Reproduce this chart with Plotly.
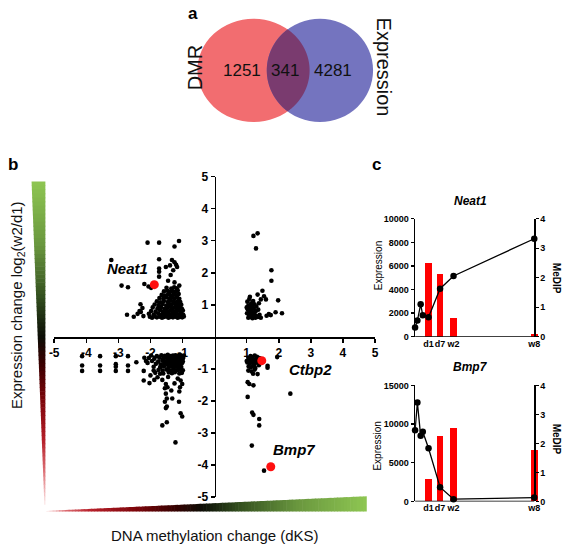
import math
import plotly.graph_objects as go

W, H = 567, 552
FONT = "Liberation Sans, Arial, sans-serif"


def px(x):
    return x / W


def py(y):
    return 1 - y / H


# ---------------- data ----------------
# panel a: Venn counts
venn_sets = ["DMR", "Expression"]
venn_counts = [1251, 341, 4281]  # DMR only, both, Expression only

# panel b: DNA methylation change (dKS) vs expression change log2(w2/d1)
ul_x = [-3.22, -2.09, -1.73, -1.25, -1.11, -1.73, -1.73, -1.73, -1.52, -1.39, -1.25, -1.17, -1.29, -1.37, -1.20, -1.33,
        -2.90, -2.70, -2.19, -2.06, -1.98, -1.73, -1.45, -1.25, -1.10, -2.31, -2.25, -2.30, -2.73, -2.52, -2.40, -2.34, -2.22,
        -2.02, -1.95, -1.88, -1.80, -1.71, -1.64, -1.58, -1.50, -1.44, -1.37, -1.30, -1.22, -1.15, -1.08, -1.01, -0.96,
        -2.05, -1.90, -1.76, -1.66, -1.55, -1.47, -1.40, -1.33, -1.26, -1.18, -1.11, -1.04, -0.98,
        -1.98, -1.84, -1.70, -1.61, -1.52, -1.43, -1.36, -1.28, -1.20, -1.13, -1.06, -0.99,
        -1.93, -1.78, -1.67, -1.57, -1.48, -1.39, -1.31, -1.24, -1.16, -1.09, -1.02,
        -1.87, -1.74, -1.62, -1.51, -1.42, -1.35, -1.27, -1.19, -1.12, -1.04,
        -1.80, -1.69, -1.58, -1.46, -1.38, -1.29, -1.22, -1.14, -1.07,
        -1.72, -1.60, -1.49, -1.41, -1.33, -1.25, -1.17, -1.10,
        -1.65, -1.55, -1.45, -1.36, -1.28, -1.20, -1.12,
        -1.58, -1.47, -1.39, -1.31, -1.22, -1.15,
        -1.50, -1.35, -1.26, -1.18]
ul_y = [2.40, 2.94, 2.94, 2.82, 2.99, 2.42, 2.13, 2.03, 2.18, 2.23, 2.33, 2.18, 2.08, 1.93, 2.25, 2.40,
        1.60, 1.55, 1.65, 1.57, 1.53, 1.88, 1.75, 1.70, 1.60, 1.02, 0.90, 0.78, 0.69, 0.63, 0.72, 0.81, 0.65,
        0.63, 0.60, 0.64, 0.61, 0.63, 0.60, 0.62, 0.64, 0.60, 0.62, 0.61, 0.63, 0.60, 0.62, 0.61, 0.64,
        0.72, 0.70, 0.73, 0.69, 0.71, 0.74, 0.69, 0.72, 0.70, 0.73, 0.70, 0.72, 0.69,
        0.81, 0.79, 0.83, 0.78, 0.82, 0.80, 0.84, 0.79, 0.81, 0.83, 0.78, 0.82,
        0.92, 0.89, 0.93, 0.88, 0.91, 0.94, 0.89, 0.92, 0.90, 0.93, 0.88,
        1.01, 0.99, 1.03, 0.98, 1.02, 1.00, 1.04, 0.99, 1.02, 1.00,
        1.11, 1.08, 1.12, 1.09, 1.13, 1.10, 1.08, 1.12, 1.09,
        1.21, 1.19, 1.23, 1.18, 1.22, 1.20, 1.24, 1.19,
        1.31, 1.29, 1.33, 1.28, 1.32, 1.30, 1.34,
        1.42, 1.44, 1.40, 1.43, 1.41, 1.45,
        1.53, 1.51, 1.55, 1.52]

ur_x = [1.21, 1.34, 1.29, 1.77, 1.77, 1.49, 1.34, 1.54, 1.60, 1.44, 1.98, 2.10, 1.69, 1.90, 1.62, 1.75,
        1.02, 1.08, 1.14, 1.20, 1.05, 1.11, 1.17, 1.24, 1.30, 1.03, 1.09, 1.15, 1.22, 1.28, 1.36, 1.01,
        1.07, 1.13, 1.19, 1.25, 1.32, 1.40, 1.05, 1.12, 1.18, 1.27, 1.35, 1.44, 1.00, 1.22, 1.10, 1.38]
ur_y = [3.15, 3.23, 2.76, 2.08, 1.75, 1.44, 1.32, 1.27, 1.17, 1.17, 1.14, 0.74, 0.71, 0.77, 0.66, 0.68,
        1.10, 1.18, 1.05, 1.12, 0.98, 0.92, 0.97, 1.02, 0.95, 0.86, 0.80, 0.84, 0.88, 0.80, 0.85, 0.74,
        0.68, 0.72, 0.66, 0.70, 0.64, 0.69, 0.60, 0.62, 0.58, 0.60, 0.62, 0.60, 0.92, 0.75, 1.25, 1.05]

ll_x = [-4.13, -4.13, -4.13, -3.57, -3.57, -3.57, -3.08, -3.08, -3.08, -3.08, -2.70, -2.70, -2.70,
        -2.44, -2.19, -2.14, -2.09, -2.21, -2.21, -2.03, -1.88, -1.78, -1.63, -1.52, -1.47, -1.35, -1.06, -1.01,
        -1.08, -1.52, -1.49, -1.55, -1.49, -1.52, -1.32, -1.11, -1.06, -1.01, -1.63, -1.49, -1.22, -2.00, -1.90,
        -1.70, -1.45, -1.25, -1.15, -1.55, -1.10,
        -1.98, -1.80, -1.66, -1.55, -1.46, -1.38, -1.30, -1.22, -1.15, -1.08, -1.01, -0.96,
        -2.05, -1.88, -1.72, -1.60, -1.50, -1.42, -1.34, -1.26, -1.18, -1.11, -1.04, -0.98,
        -1.95, -1.76, -1.63, -1.53, -1.45, -1.37, -1.29, -1.21, -1.13, -1.06, -0.99,
        -1.83, -1.68, -1.57, -1.48, -1.40, -1.32, -1.24, -1.16, -1.09, -1.02,
        -1.90, -1.70, -1.58, -1.44, -1.35, -1.27, -1.19, -1.12, -1.04,
        -1.75, -1.62, -1.50, -1.39, -1.29, -1.21, -1.14, -1.06, -0.99,
        -1.85, -1.60, -1.43, -1.33, -1.24, -1.10, -1.02]
ll_y = [-0.60, -0.89, -1.06, -0.60, -0.89, -1.06, -0.60, -0.85, -0.93, -1.06, -0.60, -0.89, -1.06,
        -0.79, -0.65, -0.75, -0.81, -1.06, -1.36, -1.44, -1.34, -1.26, -1.34, -1.47, -1.57, -1.67, -1.36, -1.47,
        -1.57, -1.77, -1.92, -2.02, -2.17, -2.22, -1.92, -2.02, -2.38, -2.48, -2.76, -2.66, -3.29, -1.20, -1.05,
        -1.15, -1.25, -1.45, -1.30, -1.60, -1.70,
        -0.58, -0.60, -0.57, -0.59, -0.56, -0.60, -0.58, -0.57, -0.59, -0.56, -0.60, -0.58,
        -0.66, -0.68, -0.65, -0.67, -0.64, -0.68, -0.66, -0.65, -0.67, -0.64, -0.68, -0.66,
        -0.75, -0.77, -0.74, -0.76, -0.73, -0.77, -0.75, -0.74, -0.76, -0.73, -0.77,
        -0.84, -0.86, -0.83, -0.85, -0.82, -0.86, -0.84, -0.83, -0.85, -0.82,
        -0.93, -0.95, -0.92, -0.94, -0.91, -0.95, -0.93, -0.92, -0.94,
        -1.03, -1.05, -1.02, -1.04, -1.01, -1.05, -1.03, -1.02, -1.04,
        -1.12, -1.14, -1.11, -1.13, -1.10, -1.14, -1.12]

lr_x = [1.95, 1.65, 1.65, 1.34, 1.03, 1.08, 1.21, 1.03, 2.36, 1.17, 1.21, 1.39, 1.39, 1.16, 1.54,
        1.05, 1.12, 1.18, 1.25, 1.32, 1.08, 1.15, 1.22, 1.29, 1.36, 1.02, 1.10, 1.17, 1.24, 1.31, 1.38,
        1.06, 1.13, 1.20, 1.27, 1.05, 1.15, 1.25, 1.00, 1.40, 1.20]
lr_y = [-0.63, -0.96, -0.90, -1.16, -1.41, -1.47, -1.51, -1.87, -1.77, -2.36, -2.43, -2.56, -2.76, -3.39, -4.17,
        -0.65, -0.60, -0.63, -0.58, -0.62, -0.72, -0.70, -0.74, -0.69, -0.72, -0.80, -0.82, -0.79, -0.85, -0.80, -0.88,
        -0.92, -0.95, -0.90, -0.97, -1.05, -1.08, -1.02, -0.75, -0.66, -1.15]

gene_names = ["Neat1", "Ctbp2", "Bmp7"]
gene_dks = [-1.88, 1.47, 1.75]
gene_expr = [1.63, -0.74, -4.05]

axis_b_ticks = [-5, -4, -3, -2, -1, 1, 2, 3, 4, 5]

# panel c: time course
time_days = [-6, -4.8, -3.1, -2, 1, 7, 14, 56]
neat1_expr = [790, 1370, 2750, 1820, 1650, 4070, 5150, 8310]
bmp7_expr = [9200, 12800, 8480, 9020, 6880, 1840, 290, 500]
medip_days = [1, 7, 14, 56]
neat1_medip = [2.50, 2.13, 0.63, 0.10]
bmp7_medip = [0.77, 2.26, 2.52, 1.76]
time_tick_vals = [1, 7, 14, 56]
time_tick_text = ["d1", "d7", "w2", "w8"]

# ---------------- figure ----------------
fig = go.Figure()

all_x = ul_x + ur_x + ll_x + lr_x
all_y = ul_y + ur_y + ll_y + lr_y
fig.add_trace(go.Scatter(x=all_x, y=all_y, mode="markers", xaxis="x", yaxis="y",
                         marker=dict(color="black", size=4.6, line=dict(width=0)),
                         hoverinfo="skip"))
fig.add_trace(go.Scatter(x=gene_dks, y=gene_expr, mode="markers", xaxis="x", yaxis="y",
                         marker=dict(color="#FF1010", size=9, line=dict(width=0))))

# panel c traces (bars on MeDIP base axis, expression line overlaid on top)
fig.add_trace(go.Bar(x=medip_days, y=neat1_medip, xaxis="x2", yaxis="y2", width=3.4,
                     marker=dict(color="#FF0000", line=dict(width=0))))
fig.add_trace(go.Scatter(x=time_days, y=neat1_expr, xaxis="x2", yaxis="y3", mode="lines+markers",
                         line=dict(color="black", width=1.3), marker=dict(color="black", size=6.5),
                         cliponaxis=False))
fig.add_trace(go.Bar(x=medip_days, y=bmp7_medip, xaxis="x3", yaxis="y4", width=3.4,
                     marker=dict(color="#FF0000", line=dict(width=0))))
fig.add_trace(go.Scatter(x=time_days, y=bmp7_expr, xaxis="x3", yaxis="y5", mode="lines+markers",
                         line=dict(color="black", width=1.3), marker=dict(color="black", size=6.5),
                         cliponaxis=False))

shapes = []

# ---- Venn (panel a) in pixel geometry ----
red_c = (252.5, 65.0, 57.0, 53.0)
blue_c = (320.0, 65.0, 54.0, 53.0)


def ell_shape(c, color):
    cx, cy, rx, ry = c
    return dict(type="circle", xref="paper", yref="paper", x0=px(cx - rx), x1=px(cx + rx),
                y0=py(cy + ry), y1=py(cy - ry), fillcolor=color, line=dict(width=0), layer="below")


shapes.append(ell_shape(red_c, "#F26D70"))
shapes.append(ell_shape(blue_c, "#7474BF"))


def inside(c, x, y):
    cx, cy, rx, ry = c
    return ((x - cx) / rx) ** 2 + ((y - cy) / ry) ** 2 <= 1.0


pts = []
n = 720
for i in range(n + 1):
    t = -math.pi + 2 * math.pi * i / n
    x = red_c[0] + red_c[2] * math.cos(t)
    y = red_c[1] + red_c[3] * math.sin(t)
    if inside(blue_c, x, y):
        pts.append((x, y))
for i in range(n + 1):
    t = 2 * math.pi * i / n
    x = blue_c[0] + blue_c[2] * math.cos(t)
    y = blue_c[1] + blue_c[3] * math.sin(t)
    if inside(red_c, x, y):
        pts.append((x, y))
lens = "M " + " L ".join(f"{px(x):.5f},{py(y):.5f}" for x, y in pts) + " Z"
shapes.append(dict(type="path", xref="paper", yref="paper", path=lens, fillcolor="#7A3B6F",
                   line=dict(width=0), layer="below"))


# ---- gradient wedges (panel b) ----
def lerp_color(stops, s):
    for (s0, c0), (s1, c1) in zip(stops[:-1], stops[1:]):
        if s0 <= s <= s1:
            f = (s - s0) / (s1 - s0) if s1 > s0 else 0
            return "rgb({},{},{})".format(*[int(round(a + (b - a) * f)) for a, b in zip(c0, c1)])
    return "rgb({},{},{})".format(*stops[-1][1])


vert_stops = [(0.0, (142, 198, 82)), (0.2, (105, 150, 62)), (0.36, (50, 78, 30)), (0.48, (12, 14, 6)),
              (0.56, (55, 0, 0)), (0.68, (125, 5, 10)), (0.8, (180, 30, 40)), (0.9, (222, 115, 120)),
              (1.0, (252, 232, 232))]
top_y, tip_y = 179.0, 510.0
nv = 80
for i in range(nv):
    y0 = top_y + (tip_y - top_y) * i / nv
    y1 = top_y + (tip_y - top_y) * (i + 1) / nv + 0.6
    xl0 = 27 + (40 - 27) * (y0 - top_y) / (tip_y - top_y)
    xl1 = 27 + (40 - 27) * min(1, (y1 - top_y) / (tip_y - top_y))
    col = lerp_color(vert_stops, (i + 0.5) / nv)
    path = (f"M {px(xl0):.5f},{py(y0):.5f} L {px(41):.5f},{py(y0):.5f} "
            f"L {px(41):.5f},{py(y1):.5f} L {px(xl1):.5f},{py(y1):.5f} Z")
    shapes.append(dict(type="path", xref="paper", yref="paper", path=path, fillcolor=col,
                       line=dict(width=0), layer="below"))

horiz_stops = [(0.0, (252, 232, 232)), (0.05, (225, 120, 125)), (0.14, (182, 30, 40)), (0.28, (125, 5, 10)),
               (0.4, (55, 0, 0)), (0.49, (12, 14, 6)), (0.6, (50, 78, 30)), (0.78, (105, 150, 62)),
               (1.0, (142, 198, 82))]
lx, rx_ = 42.0, 367.0
nh = 100
for i in range(nh):
    x0 = lx + (rx_ - lx) * i / nh
    x1 = lx + (rx_ - lx) * (i + 1) / nh + 0.6
    yt0 = 517 - (517 - 502) * (x0 - lx) / (rx_ - lx)
    yt1 = 517 - (517 - 502) * min(1, (x1 - lx) / (rx_ - lx))
    col = lerp_color(horiz_stops, (i + 0.5) / nh)
    path = (f"M {px(x0):.5f},{py(yt0):.5f} L {px(x1):.5f},{py(yt1):.5f} "
            f"L {px(x1):.5f},{py(517.5):.5f} L {px(x0):.5f},{py(517.5):.5f} Z")
    shapes.append(dict(type="path", xref="paper", yref="paper", path=path, fillcolor=col,
                       line=dict(width=0), layer="below"))

# x axis baselines for panel c (ending at the w8 right axis)
shapes.append(dict(type="line", xref="x2", yref="y2", x0=-6, x1=56, y0=0, y1=0,
                   line=dict(color="black", width=1.4)))
shapes.append(dict(type="line", xref="x3", yref="y4", x0=-6, x1=56, y0=0, y1=0,
                   line=dict(color="black", width=1.4)))

annotations = []


def ann(text, x, y, size, bold=False, italic=False, angle=0, color="black"):
    t = text
    if bold:
        t = f"<b>{t}</b>"
    if italic:
        t = f"<i>{t}</i>"
    annotations.append(dict(text=t, x=px(x), y=py(y), xref="paper", yref="paper", showarrow=False,
                            xanchor="center", yanchor="middle", textangle=angle,
                            font=dict(size=size, color=color, family=FONT)))


# panel labels
ann("a", 191, 7, 17, bold=True)
ann("b", 8, 162, 17, bold=True)
ann("c", 377, 162, 17, bold=True)

# Venn texts
ann(venn_sets[0], 194, 62, 20, angle=-90, color="#111")
ann(venn_sets[1], 385, 62, 20, angle=90, color="#111")
ann(str(venn_counts[0]), 241, 65, 17, color="#111")
ann(str(venn_counts[1]), 285, 65, 17, color="#111")
ann(str(venn_counts[2]), 333, 65, 17, color="#111")

# panel b axis titles
ann("Expression change log<sub>2</sub>(w2/d1)", 12, 306, 15, angle=-90, color="#111")
ann("DNA methylation change (dKS)", 213, 542, 15, color="#111")

# gene labels (data coordinates)
gene_label_pos = {"Neat1": (-2.73, 2.14), "Ctbp2": (3.0, -1.02), "Bmp7": (2.48, -3.52)}
for g in gene_names:
    gx, gy = gene_label_pos[g]
    annotations.append(dict(text=f"<b><i>{g}</i></b>", x=gx, y=gy, xref="x", yref="y", showarrow=False,
                            xanchor="center", yanchor="middle", font=dict(size=15, color="black", family=FONT)))

# panel c titles
ann("Neat1", 473, 199, 12, bold=True, italic=True)
ann("Bmp7", 473, 369, 12, bold=True, italic=True)
ann("Expression", 379, 265, 10, angle=-90)
ann("Expression", 379, 450, 10, angle=-90)
ann("MeDIP", 560, 278, 10, bold=True, angle=90)
ann("MeDIP", 560, 443, 10, bold=True, angle=90)

tick_b = dict(family=FONT, size=12, color="black", weight="bold")
tick_c = dict(family=FONT, size=9, color="black", weight="bold")

xd_c = [416.7 / W, 541.7 / W]

common_c_y = dict(showgrid=False, zeroline=False, showline=True, linecolor="black", linewidth=1.4,
                  ticks="outside", ticklen=3, tickwidth=1.3, tickcolor="black", tickfont=tick_c,
                  tickformat="d")
common_c_x = dict(domain=xd_c, range=[-6, 58], showgrid=False, zeroline=False, showline=False,
                  ticks="", tickvals=time_tick_vals, ticktext=time_tick_text, tickfont=tick_c,
                  tickangle=0)

fig.update_layout(
    width=W, height=H, autosize=False,
    margin=dict(l=0, r=0, t=0, b=0),
    paper_bgcolor="white", plot_bgcolor="rgba(0,0,0,0)",
    showlegend=False,
    font=dict(family=FONT, color="black"),
    bargap=0,
    xaxis=dict(domain=[50 / W, 376 / W], range=[-5, 5], anchor="free", position=py(338.5),
               showgrid=False, zeroline=False, showline=True, linecolor="black", linewidth=1.6,
               ticks="outside", ticklen=4, tickwidth=1.5, tickcolor="black",
               tickvals=axis_b_ticks, ticktext=[str(v) for v in axis_b_ticks], tickfont=tick_b),
    yaxis=dict(domain=[py(503), py(174)], range=[-5, 5], anchor="free", position=213 / W,
               showgrid=False, zeroline=False, showline=True, linecolor="black", linewidth=1.6,
               ticks="outside", ticklen=4, tickwidth=1.5, tickcolor="black",
               tickvals=axis_b_ticks, ticktext=[str(v) for v in axis_b_ticks], tickfont=tick_b),
    xaxis2=dict(anchor="y2", **common_c_x),
    yaxis2=dict(domain=[py(338.3), py(217.3)], range=[0, 4], side="right", anchor="free",
                position=537.7 / W, dtick=1, **common_c_y),
    yaxis3=dict(range=[0, 10000], overlaying="y2", side="left", anchor="x2", dtick=2000, **common_c_y),
    xaxis3=dict(anchor="y4", **common_c_x),
    yaxis4=dict(domain=[py(507.3), py(388.3)], range=[0, 4], side="right", anchor="free",
                position=537.7 / W, dtick=1, **common_c_y),
    yaxis5=dict(range=[0, 15000], overlaying="y4", side="left", anchor="x3", dtick=5000, **common_c_y),
    shapes=shapes,
    annotations=annotations,
)

fig.write_html("out.html",
               config={"displayModeBar": False, "staticPlot": True},
               post_script="document.body.style.margin='0px';document.body.style.overflow='hidden';")
